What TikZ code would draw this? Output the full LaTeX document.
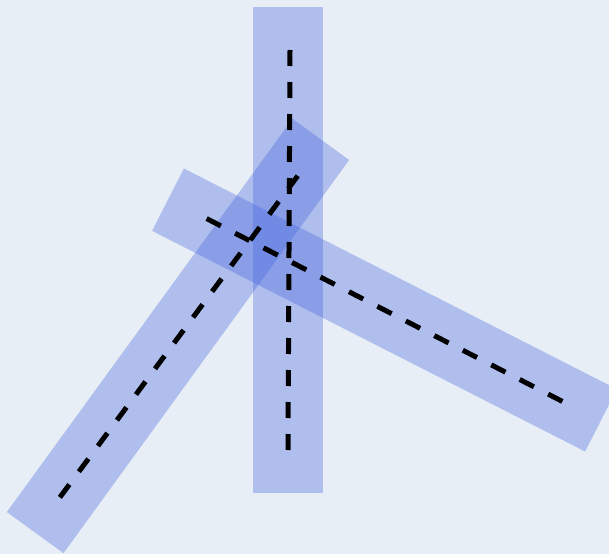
\documentclass[tikz,border=0pt]{standalone}
\usetikzlibrary{calc}
\definecolor{paper}{RGB}{232,238,246}
\definecolor{stickblue}{RGB}{69,101,223}
\tikzset{
  stick/.style={fill=stickblue, fill opacity=0.35},
  axisline/.style={draw=black, line width=5pt, dash pattern=on 16pt off 16pt},
}
\begin{document}
\begin{tikzpicture}[x=1pt,y=-1pt]
  \fill[paper] (0,0) rectangle (609,554);
  \useasboundingbox (0,0) rectangle (609,554);
  \clip (0,0) rectangle (609,554);
  % centres of the three sticks
  \coordinate (upright) at (288,250);
  \coordinate (leaning) at (178,336);
  \coordinate (lying) at (384.5,310);
  % sticks
  \begin{scope}[shift={(upright)}]
    \fill[stick] (-35,-243) rectangle (35,243);
  \end{scope}
  \begin{scope}[shift={(leaning)}, rotate=-36]
    \fill[stick] (-35,-243) rectangle (35,243);
  \end{scope}
  \begin{scope}[shift={(lying)}, rotate=63]
    \fill[stick] (-35,-243) rectangle (35,243);
  \end{scope}
  % axes
  \begin{scope}[shift={(upright)}]
    \draw[axisline] (2,-200) -- (0,200);
  \end{scope}
  \begin{scope}[shift={(leaning)}, rotate=-36.5]
    \draw[axisline] (1,-200) -- (1,200);
  \end{scope}
  \begin{scope}[shift={(lying)}, rotate=62.8]
    \draw[axisline] (0,-200) -- (0,200);
  \end{scope}
\end{tikzpicture}
\end{document}
